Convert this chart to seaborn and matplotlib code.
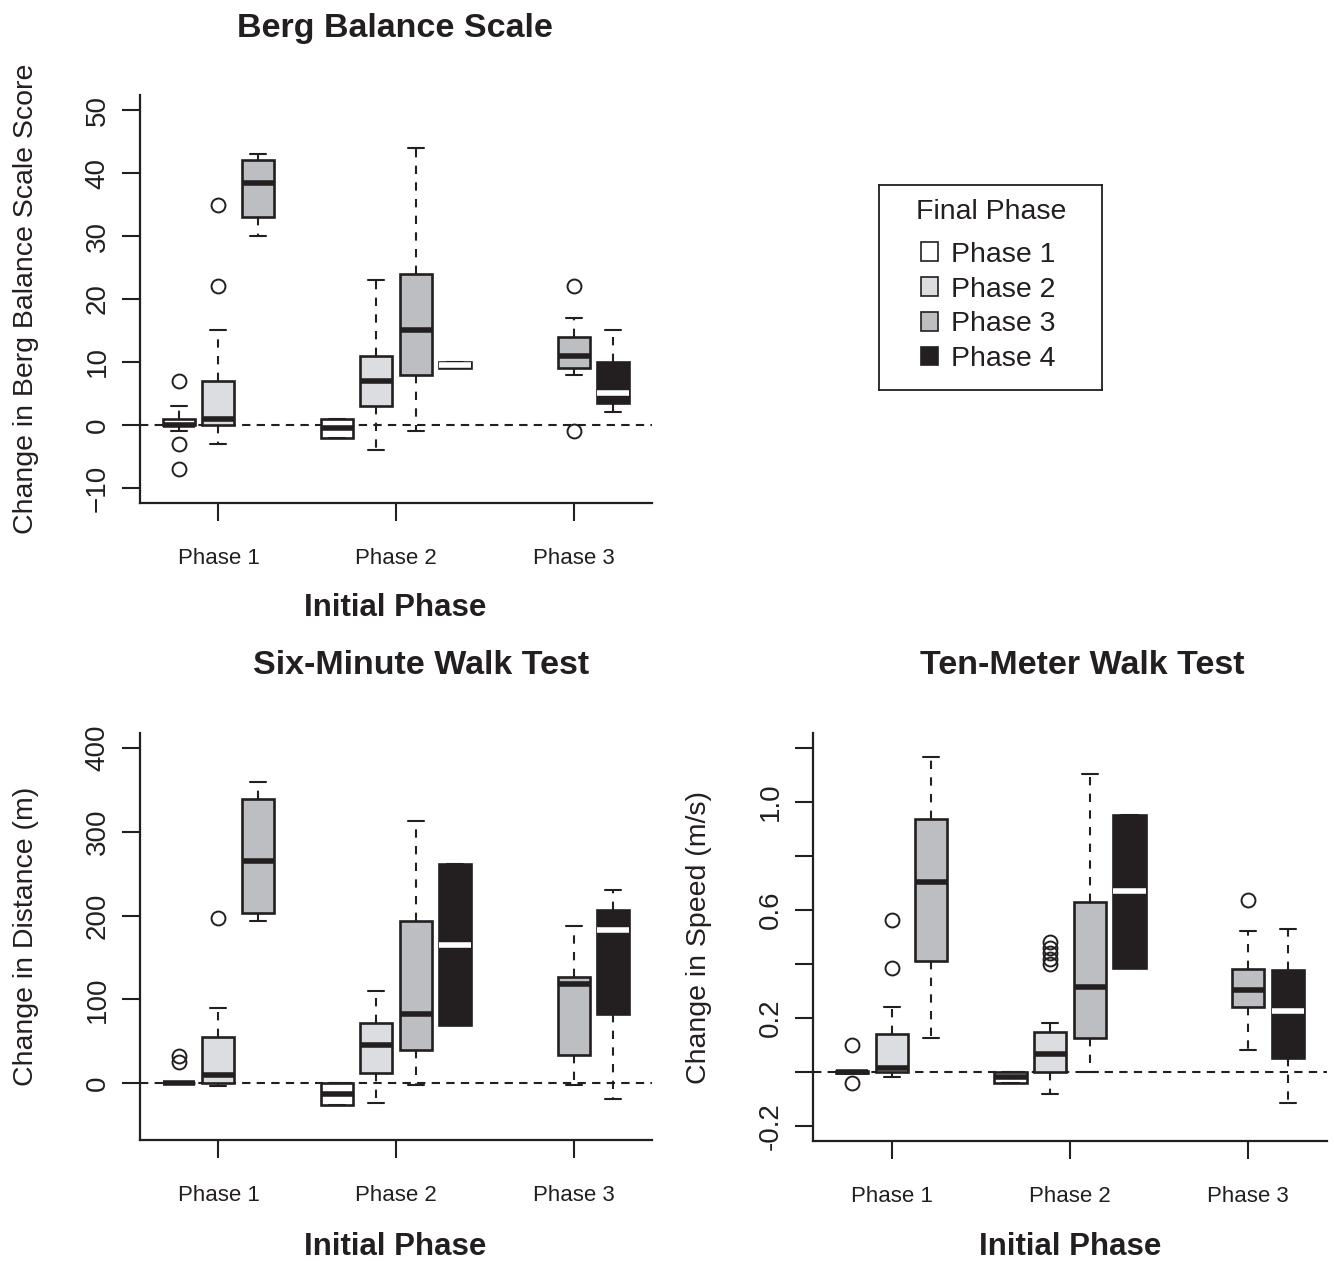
import matplotlib
matplotlib.use("Agg")
import matplotlib.pyplot as plt
from matplotlib.patches import Patch
import seaborn as sns

# groups on the x axis and legend entries
initial_labels = ["Phase 1", "Phase 2", "Phase 3"]
final_labels = ["Phase 1", "Phase 2", "Phase 3", "Phase 4"]

# each box: initial phase (x group) and final phase (fill)
box_initial = [1, 1, 1, 2, 2, 2, 2, 3, 3]
box_final = [1, 2, 3, 1, 2, 3, 4, 3, 4]

# Berg Balance Scale, five-number summaries
berg_q1 = [0, 0, 33, -2, 3, 8, 9, 9, 3.5]
berg_med = [0, 1, 38.5, -0.5, 7, 15, 9.5, 11, 5]
berg_q3 = [1, 7, 42, 1, 11, 24, 10, 14, 10]
berg_lo = [-1, -3, 30, -2, -4, -1, 9, 8, 2]
berg_hi = [3, 15, 43, 1, 23, 44, 10, 17, 15]
berg_out = [[7, -3, -7], [22, 35], [], [], [], [], [], [22, -1], []]

# Six-Minute Walk Test (m)
smwt_q1 = [0, 0, 203, -26, 12, 39, 69, 34, 82]
smwt_med = [0, 10, 265, -13, 46, 82, 165, 118, 183]
smwt_q3 = [0, 55, 339, 0, 72, 193, 261, 127, 207]
smwt_lo = [0, -3, 193, -26, -24, -2, 69, -2, -19]
smwt_hi = [0, 90, 359, 0, 110, 313, 261, 188, 230]
smwt_out = [[25, 32], [197], [], [], [], [], [], [], []]

# Ten-Meter Walk Test (m/s)
tmwt_q1 = [-0.005, 0, 0.412, -0.04, 0, 0.124, 0.386, 0.241, 0.053]
tmwt_med = [0, 0.015, 0.704, -0.017, 0.065, 0.314, 0.67, 0.305, 0.225]
tmwt_q3 = [0.005, 0.14, 0.937, 0, 0.148, 0.631, 0.951, 0.381, 0.377]
tmwt_lo = [-0.005, -0.02, 0.124, -0.04, -0.083, 0, 0.386, 0.083, -0.114]
tmwt_hi = [0.005, 0.24, 1.166, 0, 0.183, 1.105, 0.951, 0.521, 0.528]
tmwt_out = [[0.1, -0.04], [0.385, 0.563], [], [], [0.40, 0.42, 0.44, 0.46, 0.48],
            [], [], [0.637], []]

sns.set_style("ticks")
plt.rcParams["font.family"] = ["Liberation Sans", "DejaVu Sans"]

ink = "#231f20"
fills = {1: "white", 2: "#dcdde0", 3: "#bcbec1", 4: ink}
# box offsets (in box steps) inside each initial-phase group
offsets = {1: {1: -1, 2: 0, 3: 1}, 2: {1: -1.5, 2: -0.5, 3: 0.5, 4: 1.5}, 3: {3: 0, 4: 1}}
step = 0.2225

W, H = 1334, 1261
fig = plt.figure(figsize=(W / 100, H / 100), dpi=100)


def px_axes(x0, y0, x1, y1):
    return fig.add_axes([x0 / W, 1 - y1 / H, (x1 - x0) / W, (y1 - y0) / H])


def draw_panel(ax, q1, med, q3, lo, hi, out, ylim, yticks, ylabels, ylabel):
    ax.axhline(0, color=ink, lw=1.5, ls=(0, (4, 3)), zorder=1)
    for i in range(len(box_initial)):
        g, f = box_initial[i], box_final[i]
        pos = g + offsets[g][f] * step
        stats = [dict(q1=q1[i], med=med[i], q3=q3[i], whislo=lo[i], whishi=hi[i], fliers=out[i])]
        ax.bxp(stats, positions=[pos], widths=0.18, capwidths=0.09, patch_artist=True,
               manage_ticks=False, zorder=3,
               boxprops=dict(facecolor=fills[f], edgecolor=ink, linewidth=1.9),
               medianprops=dict(color="white" if f == 4 else ink, linewidth=4,
                                solid_capstyle="butt"),
               whiskerprops=dict(color=ink, linewidth=1.5, linestyle=(0, (4, 4))),
               capprops=dict(color=ink, linewidth=1.5),
               flierprops=dict(marker="o", markerfacecolor="none", markeredgecolor=ink,
                               markersize=10, markeredgewidth=1.4))
    ax.set_xlim(0.558, 3.442)
    ax.set_ylim(*ylim)
    ax.set_xticks([1, 2, 3], initial_labels, fontsize=16)
    ax.set_yticks(yticks, ylabels, fontsize=20, rotation=90, va="center")
    ax.tick_params(axis="x", length=13, width=1.5, color=ink, pad=19.5, labelcolor=ink)
    ax.tick_params(axis="y", length=13, width=1.5, color=ink, pad=8, labelcolor=ink)
    sns.despine(ax=ax)
    for s in ["left", "bottom"]:
        ax.spines[s].set_linewidth(1.6)
        ax.spines[s].set_color(ink)
    ax.set_ylabel(ylabel, fontsize=20.5, color=ink)
    ax.yaxis.set_label_coords(-0.197, 0.5)


ax1 = px_axes(140, 95, 652, 503)
draw_panel(ax1, berg_q1, berg_med, berg_q3, berg_lo, berg_hi, berg_out, (-12.4, 52.4),
           [-10, 0, 10, 20, 30, 40, 50], ["\u221210", "0", "10", "20", "30", "40", "50"],
           "Change in Berg Balance Scale Score")

ax2 = px_axes(140, 733, 652, 1140)
draw_panel(ax2, smwt_q1, smwt_med, smwt_q3, smwt_lo, smwt_hi, smwt_out, (-68, 418),
           [0, 100, 200, 300, 400], ["0", "100", "200", "300", "400"],
           "Change in Distance (m)")

ax3 = px_axes(813, 733, 1327, 1141)
draw_panel(ax3, tmwt_q1, tmwt_med, tmwt_q3, tmwt_lo, tmwt_hi, tmwt_out, (-0.256, 1.256),
           [-0.2, 0, 0.2, 0.4, 0.6, 0.8, 1.0, 1.2], ["-0.2", "", "0.2", "", "0.6", "", "1.0", ""],
           "Change in Speed (m/s)")


def fig_text(x, y, s, size):
    fig.text(x / W, 1 - y / H, s, ha="center", va="center", fontsize=size,
             fontweight="bold", color=ink)


fig_text(395, 28, "Berg Balance Scale", 24.5)
fig_text(421, 665, "Six-Minute Walk Test", 24.5)
fig_text(1082, 665, "Ten-Meter Walk Test", 24.5)
fig_text(395, 608, "Initial Phase", 22.5)
fig_text(395, 1247, "Initial Phase", 22.5)
fig_text(1070, 1247, "Initial Phase", 22.5)

# legend in its own framed box
lax = px_axes(879, 185, 1102, 390)
lax.set_xticks([])
lax.set_yticks([])
for s in lax.spines.values():
    s.set_color(ink)
    s.set_linewidth(1.3)
lax.text(0.502, 1 - (212 - 185) / 205, "Final Phase", transform=lax.transAxes,
         ha="center", va="center", fontsize=20.5, color=ink)
handles = [Patch(facecolor=fills[k], edgecolor=ink, linewidth=1.2) for k in range(1, 5)]
leg = lax.legend(handles, final_labels, loc="center", bbox_to_anchor=(0.49, 0.405),
                 frameon=False, fontsize=20.5, handlelength=0.62, handleheight=0.62,
                 handletextpad=0.45, labelspacing=0.31, borderpad=0, borderaxespad=0)
for t in leg.get_texts():
    t.set_color(ink)

fig.savefig("out.png", dpi=100)
